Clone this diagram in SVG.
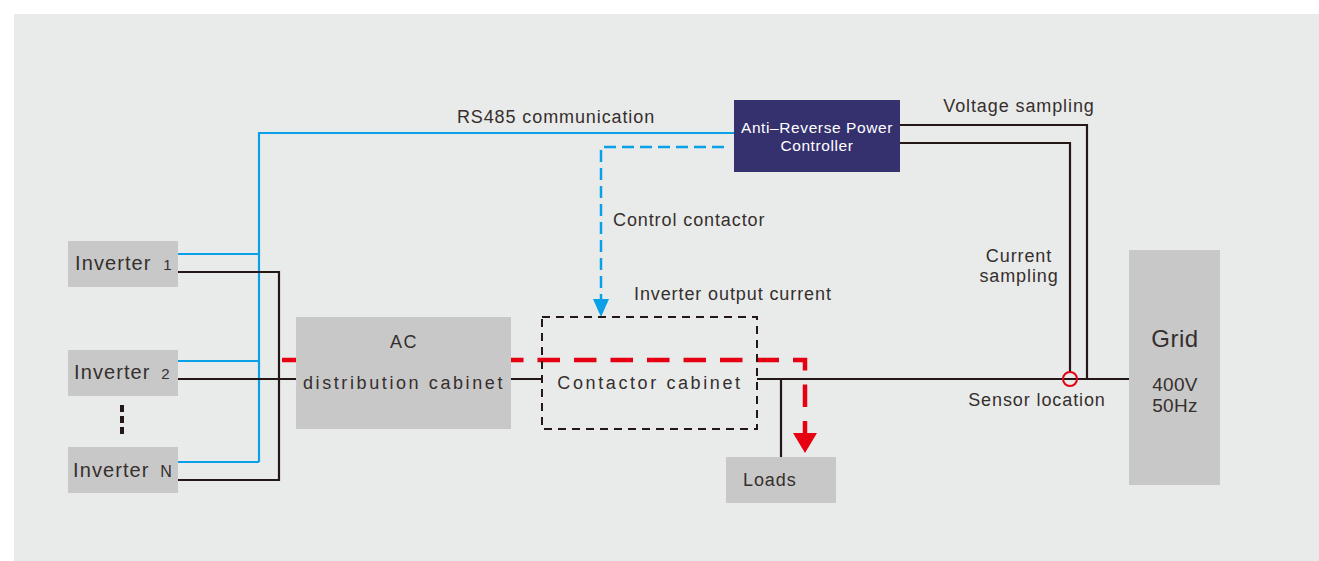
<svg xmlns="http://www.w3.org/2000/svg" width="1319" height="561" viewBox="0 0 1319 561">
<defs>
<style>
.t{font-family:"Liberation Sans",Arial,sans-serif;fill:#352f2d;font-size:18px;letter-spacing:0.9px}
.inv{font-size:20px;letter-spacing:1.1px}
.box{fill:#c8c8c8}
.blk{stroke:#231815;stroke-width:2.2;fill:none}
.blu{stroke:#0aa0e8;stroke-width:2.2;fill:none}
</style>
</defs>
<rect x="0" y="0" width="1319" height="561" fill="#ffffff"/>
<rect x="14" y="14" width="1305" height="547" fill="#e9ebea"/>

<g id="connectors">
  <path class="blu" d="M178,254 H259 M178,361 H259 M178,462 H259 M259,462 V133 H734"/>
  <path d="M724,147 H601 V299" stroke="#0aa0e8" stroke-width="2.5" fill="none" stroke-dasharray="12,6"/>
  <path d="M593,299 L609,299 L601,317 Z" fill="#0aa0e8"/>
  <path class="blk" d="M178,272 H279 V480 H178 M178,379 H296 M511,379 H541 M757,379 H1129 M781,379 V457"/>
  <path class="blk" d="M900,125 H1087 V379 M900,143 H1070 V372"/>
  <path d="M282,360 H805 V433" stroke="#e60012" stroke-width="4.5" fill="none" stroke-dasharray="22.5,14"/>
  <path d="M793,433 L817,433 L805,453 Z" fill="#e60012"/>
  <path d="M122,405 V434" stroke="#231815" stroke-width="4" stroke-dasharray="7,4"/>
  <circle cx="1070" cy="379" r="7" fill="none" stroke="#e60012" stroke-width="2"/>
</g>

<g id="inverter1"><rect class="box" x="68" y="241" width="110" height="46"/><text class="t inv" x="75" y="270">Inverter <tspan dx="5" style="font-size:15px">1</tspan></text></g>
<g id="inverter2"><rect class="box" x="68" y="350" width="110" height="46"/><text class="t inv" x="74" y="379">Inverter <tspan dx="4" style="font-size:15px">2</tspan></text></g>
<g id="inverterN"><rect class="box" x="68" y="447" width="110" height="46"/><text class="t inv" x="73" y="477">Inverter <tspan dx="4" style="font-size:16px">N</tspan></text></g>

<g id="ac-cabinet"><rect class="box" x="296" y="317" width="215" height="112"/>
<text class="t" x="404" y="348" text-anchor="middle" style="letter-spacing:1.5px">AC</text>
<text class="t" x="404" y="389" text-anchor="middle" style="letter-spacing:2.6px">distribution cabinet</text></g>

<g id="contactor-cabinet"><rect x="542" y="317" width="215" height="112" fill="none" stroke="#231815" stroke-width="2" stroke-dasharray="8,6"/>
<text class="t" x="650" y="389" text-anchor="middle" style="letter-spacing:2.6px">Contactor cabinet</text></g>

<g id="loads"><rect class="box" x="726" y="457" width="110" height="46"/><text class="t" x="743" y="486">Loads</text></g>

<g id="controller"><rect x="734" y="100" width="166" height="72" fill="#35316f"/>
<text class="t" x="817" y="133" text-anchor="middle" style="fill:#ffffff;font-size:15.5px;letter-spacing:0.6px">Anti–Reverse Power</text>
<text class="t" x="817" y="151" text-anchor="middle" style="fill:#ffffff;font-size:15.5px;letter-spacing:0.6px">Controller</text></g>

<g id="grid"><rect class="box" x="1129" y="250" width="91" height="235"/>
<text class="t" x="1175" y="347" text-anchor="middle" style="font-size:24px;letter-spacing:0.5px">Grid</text>
<text class="t" x="1175" y="391" text-anchor="middle" style="font-size:19px;letter-spacing:0.3px">400V</text>
<text class="t" x="1175" y="412" text-anchor="middle" style="font-size:19px;letter-spacing:0.3px">50Hz</text></g>

<g id="labels">
<text class="t" x="556" y="123" text-anchor="middle">RS485 communication</text>
<text class="t" x="613" y="226">Control contactor</text>
<text class="t" x="634" y="300">Inverter output current</text>
<text class="t" x="1019" y="112" text-anchor="middle">Voltage sampling</text>
<text class="t" x="1019" y="262" text-anchor="middle">Current</text>
<text class="t" x="1019" y="282" text-anchor="middle">sampling</text>
<text class="t" x="1037" y="406" text-anchor="middle">Sensor location</text>
</g>
</svg>
